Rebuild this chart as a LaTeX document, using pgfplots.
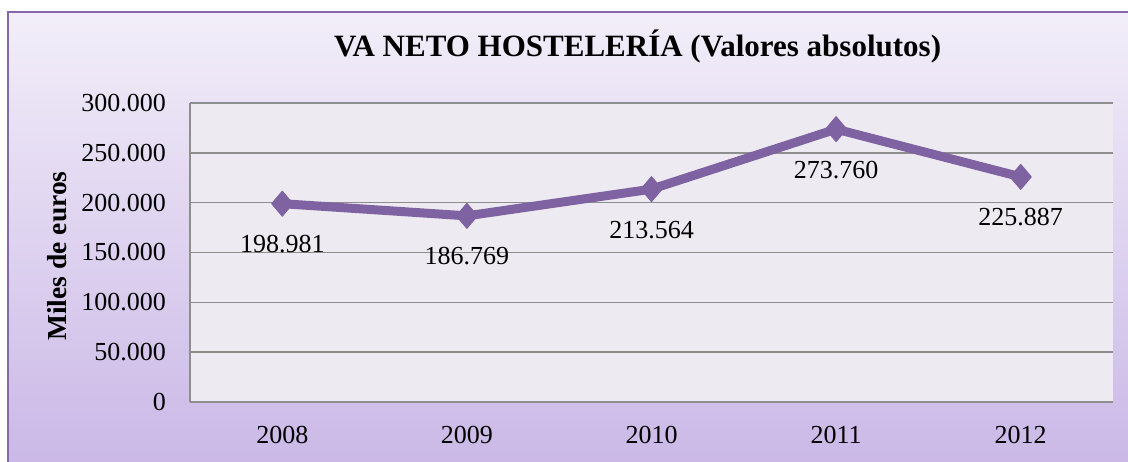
\documentclass[border=0pt]{standalone}
\usepackage{fontspec}
\setmainfont{Liberation Serif}
\usepackage{pgfplots}
\pgfplotsset{compat=1.18}
\definecolor{lineP}{HTML}{7F62A1}
\definecolor{frameP}{HTML}{8468A8}
\definecolor{bgTop}{HTML}{F2EEF9}
\definecolor{bgBot}{HTML}{C9B6E6}
\definecolor{plotbg}{HTML}{EDEBF1}
\definecolor{gridc}{HTML}{8E8E8E}
\begin{document}
\begin{tikzpicture}[x=1pt,y=1pt]
\useasboundingbox (0,0) rectangle (1128,461);
\begin{scope}
\clip (0,0) rectangle (1128,461);
\shade[top color=bgTop, bottom color=bgBot] (8,-20) rectangle (1140,449);
\draw[frameP, line width=1.5pt] (8,-20) -- (8,449) -- (1140,449);
\end{scope}
\begin{axis}[
  at={(190pt,59pt)}, anchor=south west,
  width=923pt, height=299pt, scale only axis,
  xmin=-0.5, xmax=4.5, ymin=0, ymax=300000,
  xtick={0,1,2,3,4},
  xticklabels={2008,2009,2010,2011,2012},
  ytick={0,50000,100000,150000,200000,250000,300000},
  scaled y ticks=false,
  /pgf/number format/.cd, fixed, 1000 sep={.}, assume math mode=true,
  /pgfplots/.cd,
  ymajorgrids,
  grid style={gridc, line width=1.5pt},
  axis background/.style={fill=plotbg},
  axis x line*=bottom, axis y line*=left,
  axis line style={gridc, line width=1.5pt},
  major tick length=0pt,
  tick style={draw=none},
  ticklabel style={font=\fontsize{26}{30}\selectfont},
  xticklabel style={anchor=base, inner sep=0pt, yshift=-41pt},
  yticklabel style={anchor=east, inner sep=0pt, xshift=-24pt},
  title={\textbf{VA NETO HOSTELERÍA (Valores absolutos)}},
  title style={at={(axis description cs:0.485,1.137)}, anchor=base, inner sep=0pt, font=\fontsize{31}{36}\selectfont},
  ylabel={\textbf{Miles de euros}},
  ylabel style={at={(axis description cs:-0.144,0.488)}, anchor=center, inner sep=0pt, font=\fontsize{27.5}{32}\selectfont},
  nodes near coords,
  every node near coord/.append style={anchor=base, inner sep=0pt, yshift=-49pt, font=\fontsize{26}{30}\selectfont, black},
  clip=false,
]
\addplot[lineP, line width=9pt, line join=round, mark=diamond*, mark size=12.5pt,
  mark options={xscale=1.13, line width=1pt, fill=lineP, draw=lineP}]
  coordinates {(0,198981) (1,186769) (2,213564) (3,273760) (4,225887)};
\end{axis}
\end{tikzpicture}
\end{document}
